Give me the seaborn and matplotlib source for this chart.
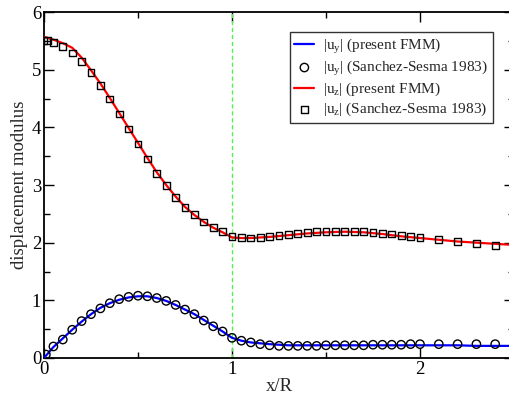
import numpy as np
import pandas as pd
import matplotlib
matplotlib.use('Agg')
import matplotlib.pyplot as plt
import seaborn as sns
from matplotlib.ticker import MultipleLocator

# FMM curves (lines)
x_line = [0.0, 0.05, 0.1, 0.15, 0.2, 0.25, 0.3, 0.35, 0.4, 0.45, 0.5, 0.55, 0.6, 0.65,
          0.7, 0.75, 0.8, 0.85, 0.9, 0.95, 1.0, 1.05, 1.1, 1.2, 1.3, 1.4, 1.5, 1.6,
          1.7, 1.8, 1.9, 2.0, 2.1, 2.2, 2.3, 2.4, 2.5]
uy_fmm = [0.0, 0.19, 0.34, 0.49, 0.63, 0.76, 0.87, 0.95, 1.01, 1.05, 1.07, 1.07, 1.04, 0.99,
          0.92, 0.84, 0.76, 0.66, 0.56, 0.46, 0.35, 0.30, 0.27, 0.24, 0.22, 0.22, 0.22, 0.22,
          0.22, 0.22, 0.22, 0.22, 0.22, 0.22, 0.21, 0.21, 0.21]
uz_fmm = [5.57, 5.52, 5.46, 5.38, 5.21, 4.99, 4.76, 4.51, 4.25, 3.99, 3.73, 3.47, 3.22, 3.00,
          2.80, 2.62, 2.48, 2.36, 2.26, 2.18, 2.09, 2.08, 2.08, 2.10, 2.13, 2.16, 2.18, 2.19,
          2.18, 2.15, 2.11, 2.08, 2.05, 2.02, 2.00, 1.98, 1.96]

# Sanchez-Sesma 1983 (markers)
x_ss_y = [0.01, 0.05, 0.1, 0.15, 0.2, 0.25, 0.3, 0.35, 0.4, 0.45, 0.5, 0.55, 0.6, 0.65,
          0.7, 0.75, 0.8, 0.85, 0.9, 0.95, 1.0, 1.05, 1.1, 1.15, 1.2, 1.25, 1.3, 1.35,
          1.4, 1.45, 1.5, 1.55, 1.6, 1.65, 1.7, 1.75, 1.8, 1.85, 1.9, 1.95, 2.0,
          2.1, 2.2, 2.3, 2.4]
uy_ss = [0.06, 0.20, 0.32, 0.49, 0.64, 0.76, 0.86, 0.95, 1.02, 1.06, 1.08, 1.07, 1.04, 0.99,
         0.92, 0.84, 0.76, 0.65, 0.55, 0.46, 0.35, 0.30, 0.27, 0.24, 0.22, 0.21, 0.21, 0.21,
         0.21, 0.21, 0.22, 0.22, 0.22, 0.22, 0.22, 0.23, 0.23, 0.23, 0.23, 0.24, 0.24,
         0.24, 0.24, 0.24, 0.24]
x_ss_z = [0.0, 0.02, 0.05, 0.1, 0.15, 0.2, 0.25, 0.3, 0.35, 0.4, 0.45, 0.5, 0.55, 0.6, 0.65,
          0.7, 0.75, 0.8, 0.85, 0.9, 0.95, 1.0, 1.05, 1.1, 1.15, 1.2, 1.25, 1.3, 1.35,
          1.4, 1.45, 1.5, 1.55, 1.6, 1.65, 1.7, 1.75, 1.8, 1.85, 1.9, 1.95, 2.0,
          2.1, 2.2, 2.3, 2.4]
uz_ss = [5.50, 5.50, 5.47, 5.40, 5.29, 5.14, 4.95, 4.73, 4.49, 4.23, 3.97, 3.71, 3.45, 3.20, 2.99,
         2.79, 2.61, 2.49, 2.36, 2.26, 2.19, 2.10, 2.09, 2.08, 2.09, 2.10, 2.12, 2.14, 2.16,
         2.17, 2.19, 2.20, 2.20, 2.20, 2.20, 2.19, 2.18, 2.16, 2.15, 2.12, 2.10, 2.09,
         2.06, 2.02, 1.99, 1.95]

sns.set_style('ticks')
plt.rcParams['font.family'] = ['Liberation Serif', 'DejaVu Serif']
plt.rcParams['mathtext.default'] = 'regular'

fig = plt.figure(figsize=(5.10, 3.94), dpi=100)
ax = fig.add_axes([44 / 510, 36 / 394, 470 / 510, 346 / 394])

ax.axvline(1.0, color='#55ee55', lw=1.0, dashes=(3, 2), zorder=1)

sns.lineplot(x=x_line, y=uy_fmm, color='#0000ff', lw=1.6, ax=ax,
             label=r'|u$_y$| (present FMM)', zorder=3)
sns.scatterplot(x=x_ss_y, y=uy_ss, marker='o', s=36, facecolor='none', edgecolor='black',
                linewidth=1.0, ax=ax, label=r'|u$_y$| (Sanchez-Sesma 1983)', zorder=4)
sns.lineplot(x=x_line, y=uz_fmm, color='#ff0000', lw=1.6, ax=ax,
             label=r'|u$_z$| (present FMM)', zorder=3)
sns.scatterplot(x=x_ss_z, y=uz_ss, marker='s', s=24, facecolor='none', edgecolor='black',
                linewidth=1.0, ax=ax, label=r'|u$_z$| (Sanchez-Sesma 1983)', zorder=4)

ax.set_xlim(0, 2.5)
ax.set_ylim(0, 6)
ax.xaxis.set_major_locator(MultipleLocator(1))
ax.xaxis.set_minor_locator(MultipleLocator(0.5))
ax.yaxis.set_major_locator(MultipleLocator(1))
ax.yaxis.set_minor_locator(MultipleLocator(0.5))
ax.tick_params(which='both', direction='in', top=True, right=True, width=1.0,
               labelsize=13.5, colors='black')
ax.tick_params(which='major', length=7, pad=2)
ax.tick_params(which='minor', length=4)
for sp in ax.spines.values():
    sp.set_linewidth(1.3)
    sp.set_color('black')

ax.set_xlabel('x/R', fontsize=13.5, labelpad=0)
ax.set_ylabel('displacement modulus', fontsize=13.5, labelpad=3)

leg = ax.legend(loc='upper right', bbox_to_anchor=(493 / 510, 1 - 32 / 394),
                bbox_transform=fig.transFigure, borderaxespad=0, fontsize=11,
                frameon=True, fancybox=False, handlelength=1.3, handletextpad=0.6,
                labelspacing=0.2, borderpad=0.3)
leg.get_frame().set_edgecolor('black')
leg.get_frame().set_linewidth(1.0)

fig.savefig('out.png', dpi=100)
